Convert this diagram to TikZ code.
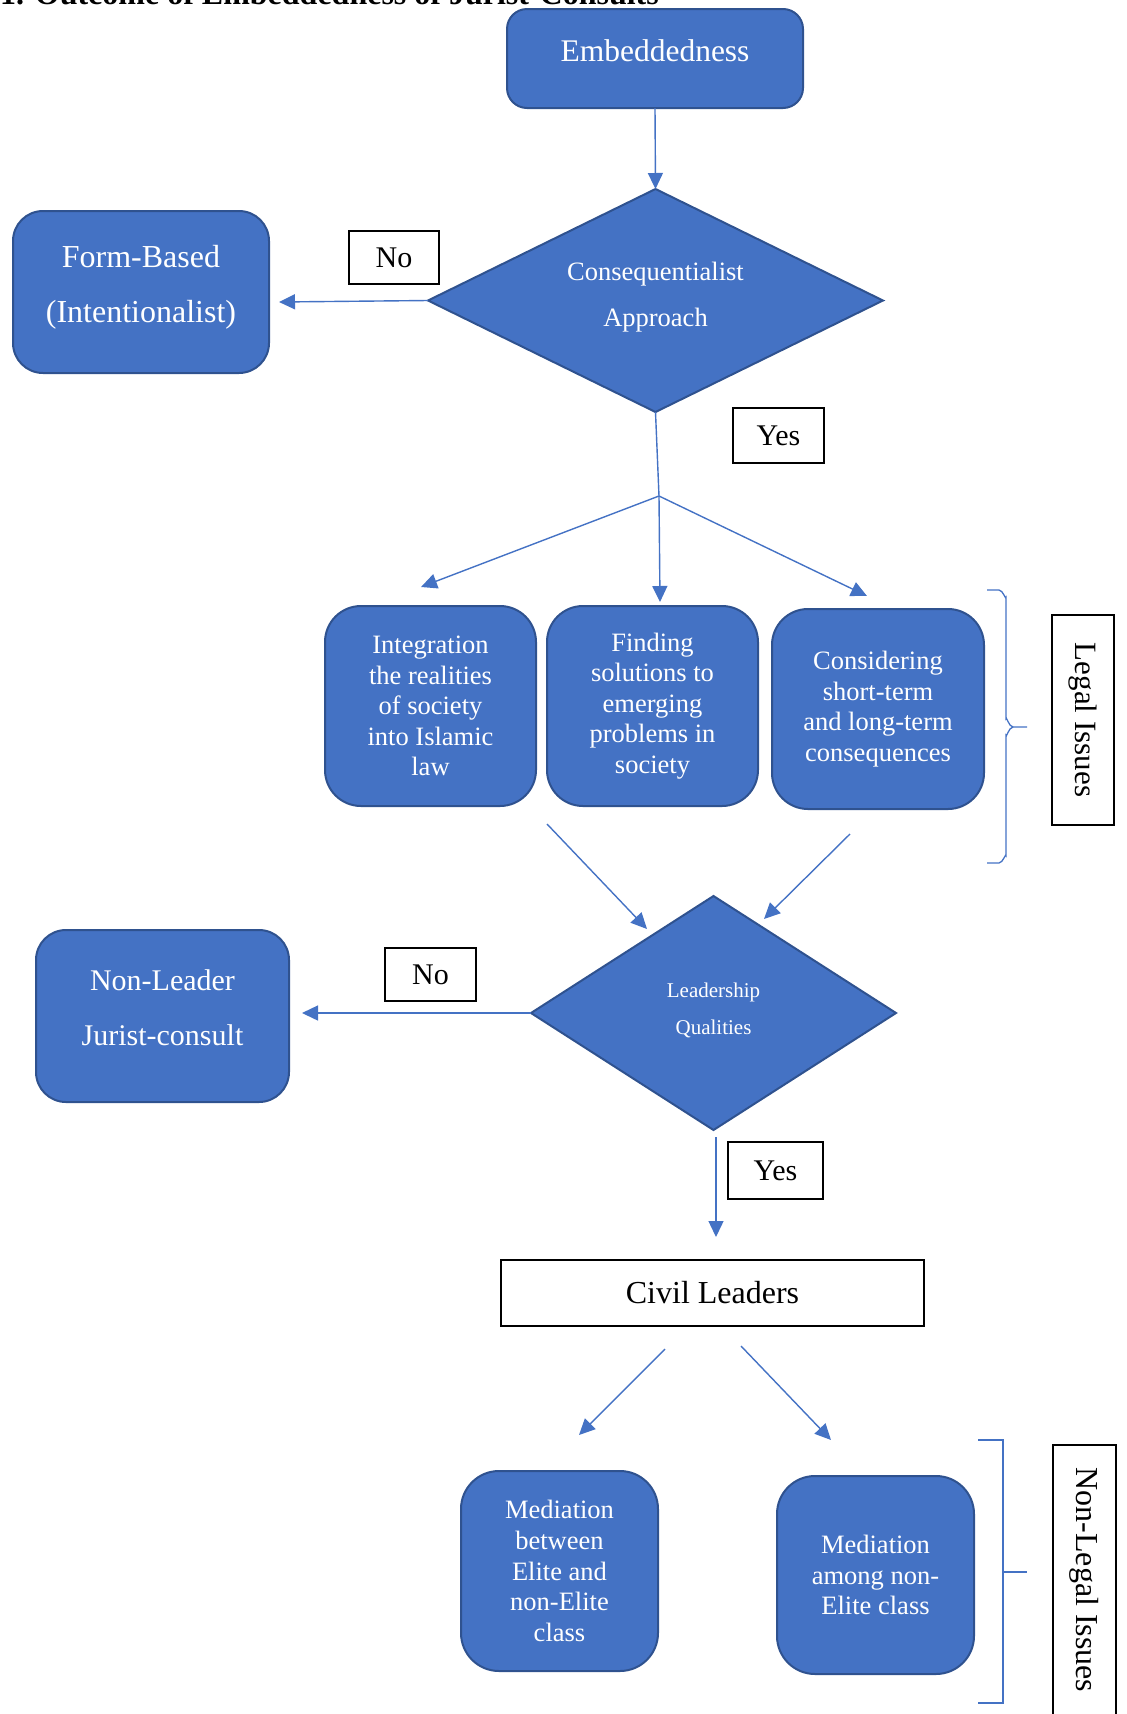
\documentclass[tikz,border=0pt]{standalone}
\usepackage{fontspec}
\setmainfont{Liberation Serif}
\usetikzlibrary{shapes.geometric,arrows.meta}
\definecolor{boxblue}{HTML}{4472C4}
\definecolor{boxedge}{HTML}{2F528F}
\begin{document}
\begin{tikzpicture}[x=1pt,y=-1pt,
  bluebox/.style={draw=boxedge, line width=2pt, fill=boxblue, rounded corners=30pt, inner sep=0pt, outer sep=0pt, text=white, align=center},
  decision/.style={diamond, draw=boxedge, line width=2pt, fill=boxblue, inner sep=0pt, outer sep=0pt, text=white, align=center},
  tag/.style={draw=black, line width=1.3pt, fill=white, inner sep=0pt, outer sep=0pt, text=black},
  wtext/.style={text=white, align=center, inner sep=0pt},
  flow/.style={draw=boxblue, line width=1.4pt, -{Triangle[length=16pt,width=15pt]}},
  flowline/.style={draw=boxblue, line width=1.4pt},
  bracket/.style={draw=boxblue, line width=1.3pt},
  midtext/.style={font=\fontsize{26.5}{30.6}\selectfont}
]
\useasboundingbox (0,0) rectangle (1127,1714);
\clip (0,0) rectangle (1127,1714);

% title (cut off at top, as in the reference)
\node[anchor=base west, inner sep=0pt, font=\bfseries\fontsize{32}{36}\selectfont] (title) at (0,4) {1. Outcome of Embeddedness of Jurist-Consults};

% top box
\node[bluebox, rounded corners=20pt, minimum width=296pt, minimum height=99pt] (emb) at (655,58.5) {};
\node[wtext, font=\fontsize{31.5}{36}\selectfont] (embT) at ([yshift=8pt]emb.center) {Embeddedness};

% first decision
\node[decision, minimum width=455pt, minimum height=223pt] (d1) at (655.5,300.5) {};
\node[wtext, font=\fontsize{26.5}{46}\selectfont] (d1T) at ([yshift=3pt]d1.center) {Consequentialist\\Approach};

\node[bluebox, minimum width=256pt, minimum height=162pt] (form) at (141,292) {};
\node[wtext, font=\fontsize{32}{55}\selectfont] (formT) at ([yshift=5pt]form.center) {Form-Based\\(Intentionalist)};

\node[tag, minimum width=90pt, minimum height=53pt, font=\fontsize{30}{36}\selectfont] (no1) at (394,257.5) {No};
\node[tag, minimum width=91pt, minimum height=55pt, font=\fontsize{30}{36}\selectfont] (yes1) at (778.5,435.5) {Yes};

% legal issue boxes
\node[bluebox, rounded corners=36pt, minimum width=211pt, minimum height=200pt, midtext] (A) at (430.5,706) {Integration\\the realities\\of society\\into Islamic\\law};
\node[bluebox, rounded corners=36pt, minimum width=211pt, minimum height=200pt, midtext] (B) at (652.5,706) {Finding\\solutions to\\emerging\\problems in\\society};
\node[bluebox, rounded corners=36pt, minimum width=212pt, minimum height=200pt, midtext] (C) at (878,709) {Considering\\short-term\\and long-term\\consequences};

\node[tag, rotate=-90, minimum width=210pt, minimum height=62pt, font=\fontsize{31}{36}\selectfont] (legal) at (1083,720) {Legal Issues};

% second decision
\node[decision, minimum width=365pt, minimum height=234pt] (d2) at (713.5,1013) {};
\node[wtext, font=\fontsize{21}{37}\selectfont] (d2T) at ([yshift=3pt]d2.center) {Leadership\\Qualities};

\node[bluebox, minimum width=253pt, minimum height=172pt] (nl) at (162.5,1016) {};
\node[wtext, font=\fontsize{30}{55}\selectfont] (nlT) at ([yshift=8pt]nl.center) {Non-Leader\\Jurist-consult};

\node[tag, minimum width=91pt, minimum height=53pt, font=\fontsize{30}{36}\selectfont] (no2) at (430.5,974.5) {No};
\node[tag, minimum width=95pt, minimum height=57pt, font=\fontsize{30}{36}\selectfont] (yes2) at (775.5,1170.5) {Yes};

\node[tag, line width=1.5pt, minimum width=423pt, minimum height=66pt, font=\fontsize{32}{36}\selectfont] (civil) at (712.5,1293) {Civil Leaders};

\node[bluebox, rounded corners=38pt, minimum width=197pt, minimum height=200pt, midtext] (ML) at (559.5,1571) {Mediation\\between\\Elite and\\non-Elite\\class};
\node[bluebox, rounded corners=38pt, minimum width=197pt, minimum height=198pt, midtext] (MR) at (875.5,1575) {Mediation\\among non-\\Elite class};

\node[tag, rotate=-90, minimum width=270pt, minimum height=63pt, font=\fontsize{32}{36}\selectfont] (nonlegal) at (1084.5,1580) {Non-Legal Issues};

% connector end points
\coordinate (tForm) at (279,302);
\coordinate (j1) at (659,496);
\coordinate (tA) at (421,587);
\coordinate (tB) at (660,602);
\coordinate (tC) at (867,596);
\coordinate (sA) at (547,824);
\coordinate (tDa) at (647,929);
\coordinate (sC) at (850,834);
\coordinate (tDc) at (764,919);
\coordinate (tNL) at (302,1013);
\coordinate (sY) at (716,1137);
\coordinate (tY) at (716,1237);
\coordinate (sL) at (665,1349);
\coordinate (tL) at (579,1435);
\coordinate (sR) at (741,1346);
\coordinate (tR) at (831,1440);

% connectors
\draw[flow] (emb.south) -- (d1.north);
\draw[flow] (d1.west) -- (tForm);
\draw[flowline] (d1.south) -- (j1);
\draw[flow] (j1) -- (tA);
\draw[flow] (j1) -- (tB);
\draw[flow] (j1) -- (tC);
\draw[flow] (sA) -- (tDa);
\draw[flow] (sC) -- (tDc);
\draw[flow] (d2.west) -- (tNL);
\draw[flow] (sY) -- (tY);
\draw[flow] (sL) -- (tL);
\draw[flow] (sR) -- (tR);

% braces
\draw[bracket] (987,590) -- (999,590) to[out=0,in=-90] (1006,597) -- (1006,719) to[out=90,in=180] (1013,727) -- (1027,727);
\draw[bracket] (1013,727) to[out=180,in=-90] (1006,735) -- (1006,856) to[out=90,in=0] (999,863) -- (987,863);
\draw[bracket] (978,1440) -- (1003,1440) -- (1003,1703) -- (978,1703);
\draw[bracket] (1003,1572) -- (1027,1572);
\end{tikzpicture}
\end{document}
